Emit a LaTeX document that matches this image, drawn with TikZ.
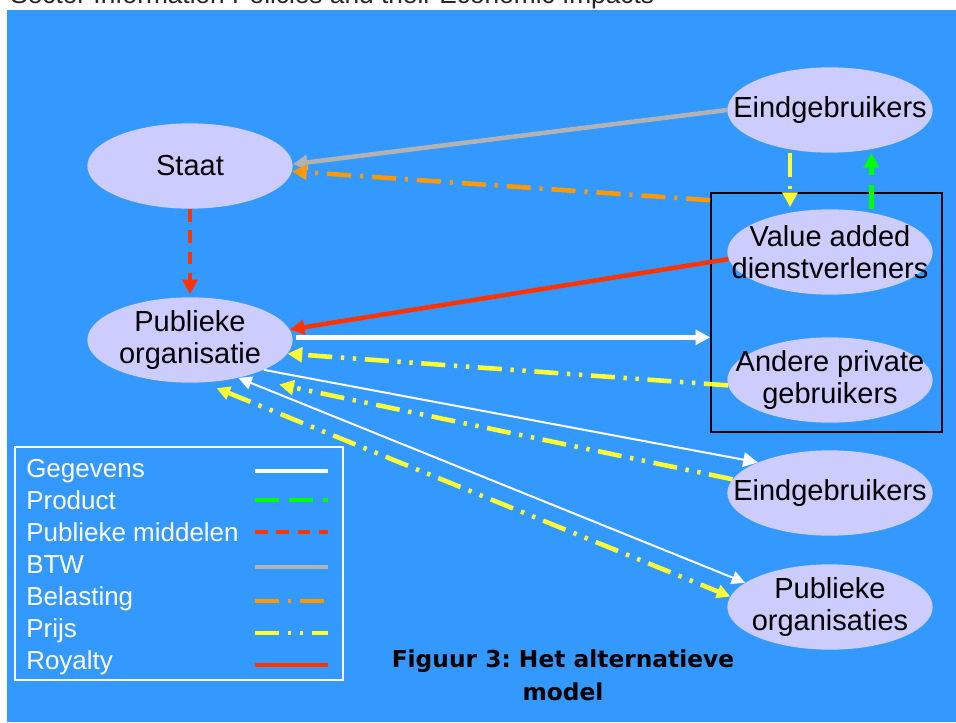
\documentclass[tikz,border=0pt]{standalone}
\usepackage{fontspec}
\setmainfont{Liberation Sans}
\newfontfamily\capfont{DejaVu Sans}
\usepackage{xcolor}
\usepackage{tikz}
\usetikzlibrary{positioning,shapes.geometric,arrows.meta}
\definecolor{bgblue}{HTML}{3399FF}
\definecolor{ovfill}{HTML}{CCCCFF}
\definecolor{prodgreen}{HTML}{00FF00}
\definecolor{midred}{HTML}{FF3300}
\definecolor{btwgray}{HTML}{B2B2B2}
\definecolor{belorange}{HTML}{FF9900}
\definecolor{prijsyellow}{HTML}{FFFF33}
\frenchspacing

\begin{document}
\begin{tikzpicture}[x=0.75pt, y=-0.75pt,
entity/.style={ellipse,fill=ovfill,inner xsep=-40pt,inner ysep=-14pt,minimum width=154pt,minimum height=64pt,align=center,font=\fontsize{21.75}{24}\selectfont},
group/.style={rectangle,draw=black,line width=1.2pt,inner sep=0pt,minimum width=173.25pt,minimum height=179.25pt},
legbox/.style={rectangle,draw=white,line width=1.2pt,inner sep=0pt,minimum width=246pt,minimum height=174.75pt},
legtext/.style={anchor=base west,inner sep=0pt,text=white,font=\fontsize{19.5}{22}\selectfont},
onehead/.style={-{Triangle[length=11pt,width=11pt]}},
twoheads/.style={{Triangle[length=10pt,width=10pt]}-{Triangle[length=10pt,width=10pt]}},
gegevens/.style={white,line width=3.5pt},
gegevensthin/.style={white,line width=1.5pt},
product/.style={prodgreen,line width=3.4pt,dash pattern=on 18pt off 7.5pt},
middelen/.style={midred,line width=2.75pt,dash pattern=on 9.5pt off 6.5pt},
btw/.style={btwgray,line width=3.4pt},
belasting/.style={belorange,line width=3.4pt,dash pattern=on 18pt off 6.75pt on 2.25pt off 6.75pt},
prijs/.style={prijsyellow,line width=3.4pt,dash pattern=on 18pt off 6.5pt on 2.5pt off 6.5pt on 2.5pt off 6.5pt},
royalty/.style={midred,line width=3.4pt}
]
\useasboundingbox (0,0) rectangle (956,722);
\fill[white] (0,0) rectangle (956,722);
\fill[bgblue] (7,10) rectangle (956,722);
\begin{scope}
\clip (0,0) rectangle (956,722);
\node[anchor=base west,inner sep=0pt,text=black!85,font=\fontsize{19.7}{22}\selectfont] (hdr) at (10,3) {Sector Information Policies and their Economic Impacts};
\end{scope}

%create nodes
\node[entity] (staat) at (190,166) {Staat};
\node[entity] (puborg) at (190,340) {Publieke\\organisatie};
\node[entity] (eindtop) at (830,110) {Eindgebruikers};
\node[entity] (vad) at (830,252) {Value added\\dienstverleners};
\node[entity] (andere) at (830,380) {Andere private\\gebruikers};
\node[entity] (eindbot) at (830,493) {Eindgebruikers};
\node[entity] (pubs) at (830,607) {Publieke\\organisaties};
\node[group] (grp) at (826.5,312.5) {};

%draw paths
\draw[btw, onehead] (eindtop.west) -- (staat.1);
\draw[belasting, onehead] ([yshift=-6pt]grp.north west) -- (staat.-3);
\draw[middelen, onehead, shorten >=2pt] (staat.south) -- (puborg.north);
\draw[royalty, onehead] (vad.184) -- (puborg.6);
\coordinate (gstart) at ([yshift=2pt]puborg.east);
\draw[gegevens, onehead, shorten <=2pt] (gstart) -- (gstart -| grp.west);
\draw[prijs, onehead] (andere.183) -- (puborg.-8);
\draw[prijs, onehead, shorten >=1.5pt] ([xshift=-30pt]eindtop.south) -- ([xshift=-30pt]vad.north);
\draw[product, onehead] ([xshift=31pt]vad.north) -- ([xshift=31pt]eindtop.south);
\draw[gegevensthin, onehead] (puborg.-22) -- (eindbot.157);
\draw[prijs, onehead, shorten >=28pt] (eindbot.172) -- (puborg.-35);
\draw[gegevensthin, twoheads] (puborg.-38) -- (pubs.164);
\draw[prijs, twoheads, shorten <=11pt] (puborg.-73) -- (pubs.174);

%legend
\node[legbox] (legend) at (179,563.5) {};
\node[legtext] (lgeg) at (26,477) {Gegevens};
\node[legtext] (lprod) at (26,509) {Product};
\node[legtext] (lmid) at (26,541) {Publieke middelen};
\node[legtext] (lbtw) at (26,573) {BTW};
\node[legtext] (lbel) at (26,605) {Belasting};
\node[legtext] (lprijs) at (26,637) {Prijs};
\node[legtext] (lroy) at (26,669) {Royalty};
\draw[gegevens] (255,471) -- (328,471);
\draw[product] (255,500) -- (328,500);
\draw[middelen] (255,532) -- (328,532);
\draw[btw] (255,567) -- (328,567);
\draw[belasting] (255,601) -- (328,601);
\draw[prijs] (255,633) -- (328,633);
\draw[royalty] (255,665) -- (328,665);

%caption
\node[anchor=north,align=center,inner sep=0pt,font=\capfont\bfseries\fontsize{17.5}{24.75}\selectfont] (capt) at (563,649) {Figuur 3: Het alternatieve\\model};
\end{tikzpicture}
\end{document}
